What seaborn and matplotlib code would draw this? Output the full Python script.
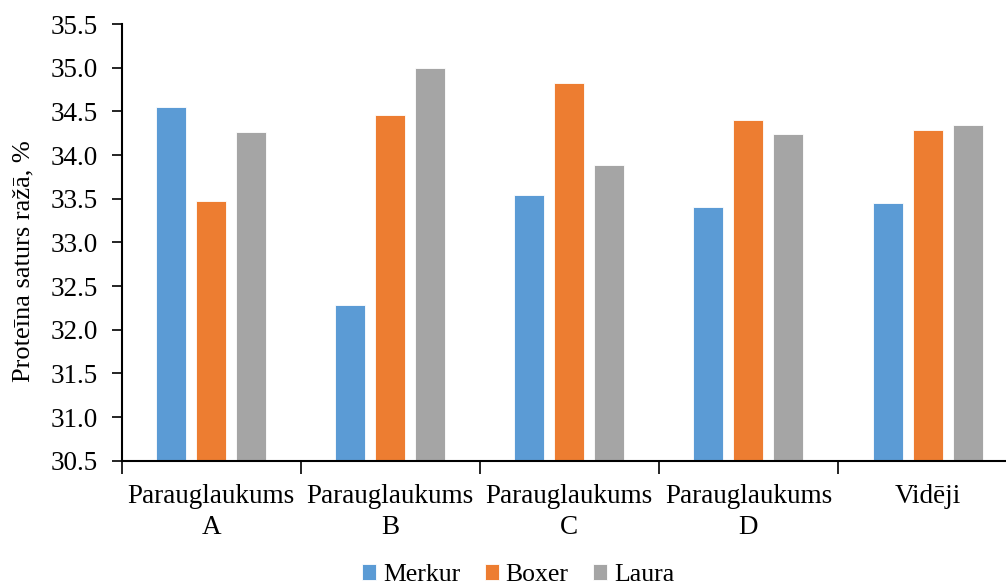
import pandas as pd
import seaborn as sns
import matplotlib.pyplot as plt
from matplotlib.ticker import FormatStrFormatter, MultipleLocator

# Data
categories = ["Parauglaukums\nA", "Parauglaukums\nB", "Parauglaukums\nC",
              "Parauglaukums\nD", "Vidēji"]
varieties = ["Merkur", "Boxer", "Laura"]
merkur = [34.55, 32.28, 33.54, 33.40, 33.45]
boxer = [33.48, 34.46, 34.82, 34.40, 34.29]
laura = [34.26, 35.00, 33.89, 34.24, 34.35]

df = pd.DataFrame({
    "Lauks": categories * 3,
    "Šķirne": [v for v in varieties for _ in categories],
    "Proteīns": merkur + boxer + laura,
})

sns.set_theme(style="white")
plt.rcParams["font.family"] = ["Liberation Serif", "DejaVu Serif"]
plt.rcParams["text.color"] = "black"
plt.rcParams["xtick.color"] = "black"
plt.rcParams["ytick.color"] = "black"

palette = ["#5B9BD5", "#ED7D31", "#A5A5A5"]
fs = 19.5

fig = plt.figure(figsize=(10.06, 5.87), dpi=100)
ax = fig.add_axes([0.121, 0.215, 0.890, 0.744])

sns.barplot(data=df, x="Lauks", y="Proteīns", hue="Šķirne",
            order=categories, hue_order=varieties, palette=palette,
            saturation=1, width=0.67, gap=0.25, edgecolor="white",
            linewidth=0.6, ax=ax, legend=True)

ax.set_ylim(30.5, 35.5)
ax.set_xlim(-0.5, 4.5)
ax.yaxis.set_major_locator(MultipleLocator(0.5))
ax.yaxis.set_major_formatter(FormatStrFormatter("%.1f"))

# category boundary ticks on x axis
ax.set_xticks([i - 0.5 for i in range(6)], minor=True)
ax.tick_params(axis="x", which="major", length=0, pad=17, labelsize=fs,
               labelcolor="black")
ax.tick_params(axis="x", which="minor", length=9, width=1.2, color="black",
               direction="out", bottom=True)
ax.tick_params(axis="y", length=7, width=1.2, color="black", direction="out",
               left=True, labelsize=fs, pad=10, labelcolor="black")
for lbl in ax.get_xticklabels():
    lbl.set_linespacing(1.3)

for side in ["top", "right"]:
    ax.spines[side].set_visible(False)
for side in ["left", "bottom"]:
    ax.spines[side].set_color("black")
    ax.spines[side].set_linewidth(1.5)

ax.set_xlabel("")
ax.set_ylabel("")
fig.text(0.023, 0.555, "Proteīna saturs ražā, %", rotation=90,
         ha="center", va="center", fontsize=19, color="black")

ax.legend_.remove()
handles, labels = ax.get_legend_handles_labels()
fig.legend(handles, labels, loc="center", bbox_to_anchor=(0.515, 0.02),
           ncol=3, frameon=False, fontsize=18.5, handlelength=0.55,
           handleheight=0.55, handletextpad=0.27, columnspacing=0.95,
           borderaxespad=0, labelcolor="black")

fig.savefig("out.png", dpi=100)
